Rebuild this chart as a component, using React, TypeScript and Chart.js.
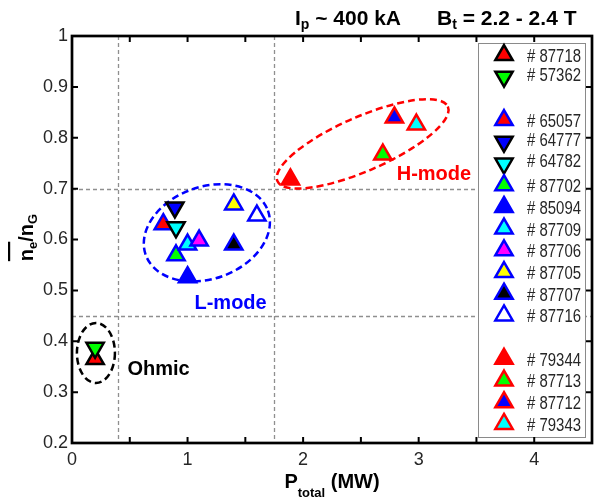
import React, { useEffect, useRef } from 'react';
import { Chart, registerables } from 'chart.js';

Chart.register(...registerables);

// ---------- data ----------
const shotLabels = ['87718', '57362', '65057', '64777', '64782', '87702', '85094', '87709', '87706', '87705', '87707', '87716', '79344', '87713', '87712', '79343'];
const totalPowerMW = [0.2, 0.2, 0.79, 0.89, 0.9, 0.9, 1.0, 1.0, 1.1, 1.4, 1.4, 1.6, 1.89, 2.69, 2.79, 2.98];
const densityRatio = [0.365, 0.387, 0.63, 0.663, 0.624, 0.569, 0.526, 0.59, 0.598, 0.669, 0.59, 0.647, 0.718, 0.767, 0.84, 0.826];
const edgeColors = ['#000000', '#000000', '#0000ff', '#000000', '#000000', '#0000ff', '#0000ff', '#0000ff', '#0000ff', '#0000ff', '#0000ff', '#0000ff', '#ff0000', '#ff0000', '#ff0000', '#ff0000'];
const faceColors = ['#ff0000', '#00ff00', '#ff0000', '#0000ff', '#00ffff', '#00ff00', '#0000ff', '#00ffff', '#ff00ff', '#ffff00', '#000000', '#ffffff', '#ff0000', '#00ff00', '#0000ff', '#00ffff'];
const pointsDown = [false, true, false, true, true, false, false, false, false, false, false, false, false, false, false, false];
const legendGroupEnds = [1, 11];

const xRange = [0, 4.5];
const yRange = [0.2, 1];
const xTickStep = 0.5;
const yTickStep = 0.1;
const refLinesX = [0.4, 1.75];
const refLinesY = [0.45, 0.7];

const regionNames = ['Ohmic', 'L-mode', 'H-mode'];
const regionColors = ['#000000', '#0000ff', '#ff0000'];
const regionLabelX = [0.48, 1.06, 2.81];
const regionLabelY = [0.344, 0.475, 0.727];
const regionCenterX = [0.207, 1.167, 2.515];
const regionCenterY = [0.377, 0.613, 0.788];

// ---------- styles (pixels) ----------
const regionShape = [
  { rx: 19, ry: 30, angle: 0 },
  { rx: 65, ry: 46, angle: -20 },
  { rx: 93, ry: 27, angle: -23.6 },
];
const FONT = '"Liberation Sans", Arial, sans-serif';
const MARKER_R = 10;
const MARKER_LW = 2.5;
const TICK_COLOR = '#262626';

function drawTriangle(ctx: CanvasRenderingContext2D, x: number, y: number, r: number, down: boolean, face: string, edge: string, lw: number) {
  ctx.save();
  ctx.beginPath();
  let rad = down ? Math.PI : 0;
  for (let k = 0; k < 3; k++) {
    const px = x + Math.sin(rad) * r;
    const py = y - Math.cos(rad) * r;
    if (k === 0) ctx.moveTo(px, py); else ctx.lineTo(px, py);
    rad += (2 * Math.PI) / 3;
  }
  ctx.closePath();
  ctx.fillStyle = face;
  ctx.fill();
  ctx.lineWidth = lw;
  ctx.strokeStyle = edge;
  ctx.stroke();
  ctx.restore();
}

const backgroundPlugin = {
  id: 'bgAnnotations',
  beforeDatasetsDraw(chart: any) {
    const { ctx, chartArea: a, scales } = chart;
    const xs = scales.x, ys = scales.y;
    ctx.save();
    ctx.strokeStyle = '#8f8f8f';
    ctx.lineWidth = 1.3;
    ctx.setLineDash([4, 3]);
    refLinesX.forEach((v) => {
      const px = Math.round(xs.getPixelForValue(v)) + 0.5;
      ctx.beginPath(); ctx.moveTo(px, a.top); ctx.lineTo(px, a.bottom); ctx.stroke();
    });
    refLinesY.forEach((v) => {
      const py = Math.round(ys.getPixelForValue(v)) + 0.5;
      ctx.beginPath(); ctx.moveTo(a.left, py); ctx.lineTo(a.right, py); ctx.stroke();
    });
    // region ellipses
    ctx.lineWidth = 2.5;
    ctx.setLineDash([7, 4]);
    regionNames.forEach((_, i) => {
      const cx = xs.getPixelForValue(regionCenterX[i]);
      const cy = ys.getPixelForValue(regionCenterY[i]);
      const s = regionShape[i];
      ctx.strokeStyle = regionColors[i];
      ctx.beginPath();
      ctx.ellipse(cx, cy, s.rx, s.ry, (s.angle * Math.PI) / 180, 0, Math.PI * 2);
      ctx.stroke();
    });
    ctx.setLineDash([]);
    ctx.font = `bold 20px ${FONT}`;
    ctx.textAlign = 'left';
    ctx.textBaseline = 'middle';
    regionNames.forEach((name, i) => {
      ctx.fillStyle = regionColors[i];
      ctx.fillText(name, xs.getPixelForValue(regionLabelX[i]), ys.getPixelForValue(regionLabelY[i]));
    });
    ctx.restore();
  },
};

const frameLegendPlugin = {
  id: 'frameLegend',
  afterDatasetsDraw(chart: any) {
    const { ctx, chartArea: a, scales } = chart;
    ctx.save();
    // legend box
    const left = a.right - 114, right = a.right - 7, top = a.top + 7, bottom = a.bottom - 6;
    ctx.fillStyle = '#ffffff';
    ctx.fillRect(left, top, right - left, bottom - top);
    ctx.strokeStyle = '#8a8a8a';
    ctx.lineWidth = 1;
    ctx.strokeRect(Math.round(left) + 0.5, Math.round(top) + 0.5, right - left, bottom - top);
    const rowH = 21.7;
    let row = 0;
    ctx.font = `18px ${FONT}`;
    ctx.textAlign = 'left';
    ctx.textBaseline = 'middle';
    shotLabels.forEach((s, i) => {
      const cy = top + 12 + row * rowH;
      drawTriangle(ctx, left + 26, cy, MARKER_R, pointsDown[i], faceColors[i], edgeColors[i], MARKER_LW);
      ctx.fillStyle = TICK_COLOR;
      ctx.fillText('# ' + s, left + 49, pointsDown[i] ? cy - 1 : cy + 2, 54);
      row += 1 + (legendGroupEnds.includes(i) ? 1 : 0);
    });
    // frame
    ctx.strokeStyle = '#000000';
    ctx.lineWidth = 2.7;
    ctx.strokeRect(a.left, a.top, a.right - a.left, a.bottom - a.top);
    // inward ticks
    ctx.lineWidth = 2;
    const tl = 6;
    scales.x.ticks.forEach((t: any) => {
      const px = scales.x.getPixelForValue(t.value);
      if (px <= a.left + 1 || px >= a.right - 1) return;
      ctx.beginPath();
      ctx.moveTo(px, a.bottom); ctx.lineTo(px, a.bottom - tl);
      ctx.moveTo(px, a.top); ctx.lineTo(px, a.top + tl);
      ctx.stroke();
    });
    scales.y.ticks.forEach((t: any) => {
      const py = scales.y.getPixelForValue(t.value);
      if (py <= a.top + 1 || py >= a.bottom - 1) return;
      ctx.beginPath();
      ctx.moveTo(a.left, py); ctx.lineTo(a.left + tl, py);
      ctx.moveTo(a.right, py); ctx.lineTo(a.right - tl, py);
      ctx.stroke();
    });
    // x tick labels (integers only), from the scale's own ticks
    ctx.font = `18px ${FONT}`;
    ctx.fillStyle = TICK_COLOR;
    ctx.textAlign = 'center';
    ctx.textBaseline = 'middle';
    scales.x.ticks.forEach((t: any) => {
      if (!Number.isInteger(t.value)) return;
      ctx.fillText(String(t.value), scales.x.getPixelForValue(t.value), a.bottom + 17);
    });
    ctx.restore();
  },
};

function drawSegments(ctx: CanvasRenderingContext2D, x: number, y: number, segs: { t: string; size: number; dy: number }[]) {
  let cx = x;
  segs.forEach((s) => {
    ctx.font = `bold ${s.size}px ${FONT}`;
    ctx.fillText(s.t, cx, y + s.dy);
    cx += ctx.measureText(s.t).width;
  });
  return cx;
}

const titlesPlugin = {
  id: 'titles',
  afterDraw(chart: any) {
    const { ctx, chartArea: a } = chart;
    ctx.save();
    ctx.fillStyle = '#000000';
    ctx.textAlign = 'left';
    ctx.textBaseline = 'alphabetic';
    // top title
    drawSegments(ctx, 295, 25, [
      { t: 'I', size: 21, dy: 0 },
      { t: 'p', size: 14, dy: 4 },
      { t: ' ~ 400 kA', size: 21, dy: 0 },
    ]);
    drawSegments(ctx, 437, 25, [
      { t: 'B', size: 21, dy: 0 },
      { t: 't', size: 14, dy: 4 },
      { t: ' = 2.2 - 2.4 T', size: 21, dy: 0 },
    ]);
    // x axis title
    const xSegs = [
      { t: 'P', size: 20, dy: 0 },
      { t: 'total', size: 13, dy: 9 },
      { t: ' (MW)', size: 20, dy: 0 },
    ];
    let w = 0;
    xSegs.forEach((s) => { ctx.font = `bold ${s.size}px ${FONT}`; w += ctx.measureText(s.t).width; });
    drawSegments(ctx, (a.left + a.right) / 2 - w / 2, 488, xSegs);
    // y axis title (rotated)
    const ySegs = [
      { t: 'n', size: 20, dy: 0 },
      { t: 'e', size: 13, dy: 4 },
      { t: '/n', size: 20, dy: 0 },
      { t: 'G', size: 13, dy: 4 },
    ];
    let yw = 0;
    ySegs.forEach((s) => { ctx.font = `bold ${s.size}px ${FONT}`; yw += ctx.measureText(s.t).width; });
    ctx.translate(33, (a.top + a.bottom) / 2 - 2);
    ctx.rotate(-Math.PI / 2);
    const sx = -yw / 2;
    ctx.font = `bold 20px ${FONT}`;
    const nW = ctx.measureText('n').width;
    ctx.font = `bold 13px ${FONT}`;
    const eW = ctx.measureText('e').width;
    drawSegments(ctx, sx, 0, ySegs);
    ctx.fillRect(sx, -25, nW + eW, 2.2);
    ctx.restore();
  },
};

export default function App() {
  const ref = useRef<HTMLCanvasElement>(null);
  useEffect(() => {
    document.body.style.margin = '0';
    const datasets = shotLabels.map((s, i) => ({
      label: '# ' + s,
      data: [{ x: totalPowerMW[i], y: densityRatio[i] }],
      pointStyle: 'triangle' as const,
      rotation: pointsDown[i] ? 180 : 0,
      pointRadius: MARKER_R,
      pointHoverRadius: MARKER_R,
      backgroundColor: faceColors[i],
      borderColor: edgeColors[i],
      borderWidth: MARKER_LW,
      showLine: false,
      order: shotLabels.length - i,
    }));
    const chart = new Chart(ref.current!, {
      type: 'scatter',
      data: { datasets },
      options: {
        responsive: false,
        animation: false,
        events: [],
        layout: { autoPadding: false, padding: { top: 36, right: 4, left: 0, bottom: 0 } },
        plugins: { legend: { display: false }, tooltip: { enabled: false } },
        scales: {
          x: {
            type: 'linear',
            min: xRange[0],
            max: xRange[1],
            grid: { display: false, drawTicks: false },
            border: { display: false },
            ticks: { stepSize: xTickStep, autoSkip: false, display: false },
            afterFit: (s: any) => { s.height = 55; s.paddingLeft = 0; s.paddingRight = 0; },
          },
          y: {
            type: 'linear',
            min: yRange[0],
            max: yRange[1],
            grid: { display: false, drawTicks: false },
            border: { display: false },
            ticks: {
              stepSize: yTickStep,
              autoSkip: false,
              padding: 4,
              color: TICK_COLOR,
              font: { family: FONT, size: 18 },
              callback: (v: any) => String(Math.round(Number(v) * 10) / 10),
            },
            afterFit: (s: any) => { s.width = 72; s.paddingTop = 0; s.paddingBottom = 0; },
          },
        },
      },
      plugins: [backgroundPlugin, frameLegendPlugin, titlesPlugin],
    } as any);
    return () => chart.destroy();
  }, []);
  return (
    <div style={{ width: 596, height: 498 }}>
      <canvas ref={ref} width={596} height={498} style={{ width: 596, height: 498, display: 'block' }} />
    </div>
  );
}
